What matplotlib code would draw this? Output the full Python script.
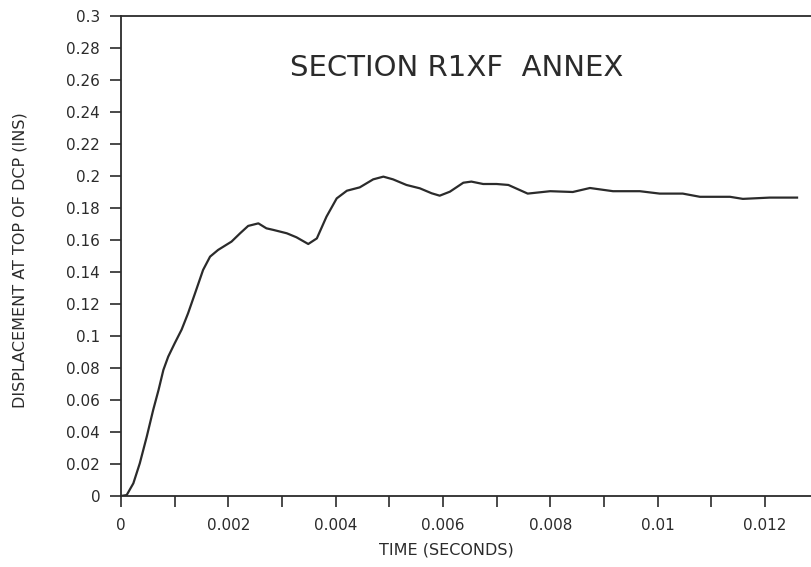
import matplotlib
matplotlib.use("agg")
import matplotlib.pyplot as plt

# displacement history (seconds, inches)
time_s = [0.0, 0.000106, 0.00023, 0.00035, 0.00048, 0.0006, 0.0007, 0.00079,
          0.00088, 0.001, 0.00113, 0.00125, 0.00138, 0.00153, 0.00166, 0.00181,
          0.00206, 0.00222, 0.00237, 0.00256, 0.00271, 0.00284, 0.00309,
          0.00327, 0.00349, 0.00365, 0.00383, 0.00402, 0.00421, 0.00445, 0.0047,
          0.00489, 0.00507, 0.00532, 0.00557, 0.00579, 0.00594, 0.00613,
          0.00638, 0.00653, 0.00675, 0.007, 0.00722, 0.00758, 0.008, 0.00842,
          0.00874, 0.00917, 0.00967, 0.01004, 0.01047, 0.01079, 0.01135,
          0.01159, 0.01209, 0.0126]
disp_in = [0.0, 0.0006, 0.0079, 0.0204, 0.0371, 0.0538, 0.0663, 0.0788,
           0.0871, 0.0954, 0.104, 0.1142, 0.1267, 0.1413, 0.1496, 0.1538,
           0.159, 0.1642, 0.1688, 0.1704, 0.1673, 0.1663, 0.1642,
           0.1617, 0.1575, 0.161, 0.1746, 0.186, 0.1908, 0.1929, 0.1979,
           0.1996, 0.1979, 0.1944, 0.1923, 0.1892, 0.1877, 0.1902,
           0.1958, 0.1965, 0.195, 0.195, 0.1944, 0.189, 0.1905, 0.190,
           0.1925, 0.1905, 0.1905, 0.189, 0.189, 0.187, 0.187,
           0.1857, 0.1865, 0.1865]

x_ticks = [0, 0.002, 0.004, 0.006, 0.008, 0.01, 0.012]
x_labels = ["0", "0.002", "0.004", "0.006", "0.008", "0.01", "0.012"]
y_ticks = [round(0.02 * i, 2) for i in range(16)]
y_labels = ["0", "0.02", "0.04", "0.06", "0.08", "0.1", "0.12", "0.14", "0.16",
            "0.18", "0.2", "0.22", "0.24", "0.26", "0.28", "0.3"]

ink = "#2b2b2b"
plt.rcParams["font.family"] = "DejaVu Sans"

fig = plt.figure(figsize=(8.11, 5.67), dpi=100)
ax = fig.add_axes([121 / 811, 1 - 496 / 567, 1 - 121 / 811, (496 - 16) / 567])

ax.plot(time_s, disp_in, color=ink, linewidth=1.6, solid_joinstyle="round")

ax.set_xlim(0, 0.01286)
ax.set_ylim(0, 0.3)
ax.set_xticks(x_ticks)
ax.set_xticks([0.001, 0.003, 0.005, 0.007, 0.009, 0.011], minor=True)
ax.set_xticklabels(x_labels)
ax.set_yticks(y_ticks)
ax.set_yticklabels(y_labels)
ax.tick_params(axis="both", which="both", direction="out", color=ink,
               labelcolor=ink, labelsize=11, width=1.2)
ax.tick_params(axis="x", which="both", length=8, pad=8)
ax.tick_params(axis="y", length=8, pad=7)

ax.spines["right"].set_visible(False)
for side in ("left", "top", "bottom"):
    ax.spines[side].set_color(ink)
    ax.spines[side].set_linewidth(1.3)

fig.text(457 / 811, 1 - 68 / 567, "SECTION R1XF  ANNEX", ha="center",
         va="center", fontsize=21, color=ink)
fig.text(446 / 811, 1 - 550 / 567, "TIME (SECONDS)", ha="center",
         va="center", fontsize=11.5, color=ink)
fig.text(20 / 811, 1 - 260 / 567, "DISPLACEMENT AT TOP OF DCP (INS)",
         ha="center", va="center", rotation=90, fontsize=11.5, color=ink)

fig.savefig("out.png", dpi=100)
